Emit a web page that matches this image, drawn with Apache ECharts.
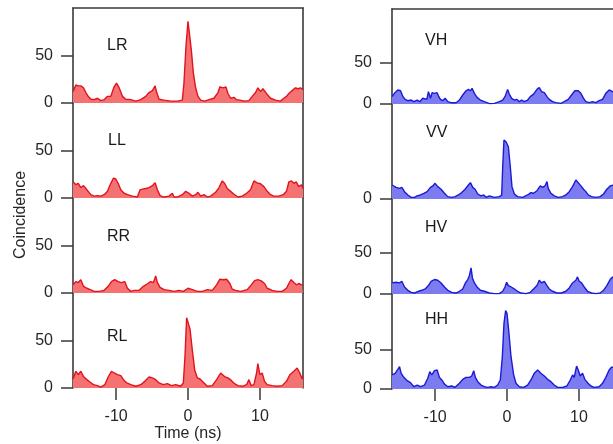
<!DOCTYPE html>
<html>
<head>
<meta charset="utf-8">
<script src="https://cdn.jsdelivr.net/npm/echarts@6/dist/echarts.min.js"></script>
<style>html,body{margin:0;padding:0;background:#fff}#c{width:613px;height:444px}</style>
</head>
<body>
<div id="c"></div>
<script>
// ---- data ----
const xTickValues = [-10, 0, 10];
const yTickValues = [0, 50];
const vvTickValues = [0];
const xRange = [-16, 16];
const panelNames = ['LR', 'LL', 'RR', 'RL', 'VH', 'VV', 'HV', 'HH'];
const panelMax = [100, 100, 100, 100, 115, 40, 115, 120];

const lr = [[-16,12],[-15.6,19],[-15.28,18],[-14.91,18],[-14.54,16],[-14.21,11],[-13.89,7],[-13.52,4],[-13.06,3.5],[-12.59,5],[-12.13,2.5],[-11.67,3.5],[-11.2,7],[-10.74,7],[-10.28,17],[-9.95,21],[-9.58,16],[-9.12,7],[-8.66,4],[-7.96,3.5],[-7.27,2],[-6.57,3.5],[-5.88,7],[-5.42,11],[-4.95,13],[-4.58,18],[-4.35,11],[-4.03,4],[-3.33,3],[-2.41,2],[-1.48,2],[-0.79,3],[-0.56,21],[-0.28,60],[0,86],[0.23,84],[0.46,56],[0.74,32],[1.06,16],[1.39,7],[1.76,3],[2.31,2],[2.92,3.5],[3.61,5],[4.17,11],[4.44,17],[4.91,16],[5.28,17],[5.56,10],[5.93,5],[6.39,6],[6.76,3.5],[7.22,3],[7.78,2],[8.47,2.5],[8.94,7],[9.4,11],[9.72,16],[10.09,12],[10.42,15],[10.69,13],[11.02,9],[11.48,5],[12.18,3],[12.87,2],[13.33,5],[13.7,7],[14.03,10],[14.49,13],[14.95,16],[15.32,15],[15.65,16],[16,14]];
const ll = [[-16,17],[-15.6,14],[-15.28,15.5],[-14.91,11],[-14.54,13],[-14.21,10],[-13.89,7],[-13.52,3.5],[-13.06,2],[-12.59,2.5],[-12.13,2],[-11.67,3.5],[-11.2,7],[-10.83,14],[-10.37,21],[-10.05,20],[-9.72,15.5],[-9.35,8.6],[-8.89,5],[-8.43,3.5],[-7.73,2],[-7.04,1],[-6.67,8.6],[-6.34,9.3],[-5.88,10],[-5.42,11],[-4.95,13],[-4.58,16],[-4.26,8.6],[-3.89,2.5],[-3.33,1],[-2.64,2],[-2.18,5],[-1.94,1],[-1.48,1],[-0.79,3.5],[-0.32,7],[0.14,5],[0.6,2],[1.06,3.5],[1.39,6],[1.76,2],[2.22,3.5],[2.69,1],[3.15,2],[3.84,6],[4.31,11],[4.77,18],[5.09,15.5],[5.46,10],[5.93,7],[6.39,4],[6.94,1],[7.55,2],[8.15,5],[8.7,8.6],[9.17,18],[9.63,16],[10.09,15],[10.56,12],[11.02,7],[11.48,3.5],[11.94,2],[12.64,2],[13.24,3.5],[13.7,7],[14.03,17],[14.4,18],[14.72,15.5],[15.05,17],[15.42,12],[15.79,14],[16,10]];
const rr = [[-16,8.6],[-15.6,12],[-15.28,11],[-14.91,14],[-14.54,7],[-14.07,5],[-13.61,3.5],[-13.06,1.7],[-12.36,1.7],[-11.67,2.8],[-11.11,7],[-10.65,12],[-10.19,14],[-9.72,12],[-9.26,11],[-8.8,12],[-8.43,5],[-7.96,1.7],[-7.5,2.8],[-7.27,4],[-6.81,2.8],[-6.2,7],[-5.65,9.7],[-5.19,12],[-4.81,11],[-4.49,18],[-4.26,11],[-3.89,6],[-3.33,3.5],[-2.64,2.8],[-1.94,1.7],[-1.25,2.8],[-0.65,1.7],[0,5],[0.6,3.5],[1.3,1.7],[1.99,1.7],[2.69,3.5],[3.38,2.8],[3.98,8.6],[4.44,14.5],[4.91,14],[5.37,14.5],[5.83,10],[6.16,4],[6.62,2.8],[7.31,1.7],[8.24,3.5],[8.8,8.6],[9.26,13],[9.72,14],[10.19,12.8],[10.65,10],[11.02,5],[11.71,2.8],[12.41,1.7],[13.1,1.7],[13.7,5],[14.03,10],[14.35,14],[14.72,11],[15.09,8.6],[15.42,10],[15.79,8.6],[16,7.6]];
const rl = [[-16,9.5],[-15.6,17.6],[-15.28,14],[-14.91,17.6],[-14.54,12],[-14.07,8.8],[-13.61,6],[-13.15,3.5],[-12.59,2.5],[-12.13,1],[-11.57,3.5],[-11.11,11.6],[-10.65,17.6],[-10.28,15.8],[-9.81,14],[-9.35,13],[-8.98,8.8],[-8.52,5.3],[-7.96,3.5],[-7.27,1.8],[-6.57,3.5],[-6.02,7],[-5.42,11.6],[-4.95,10.6],[-4.49,8.8],[-4.03,5.3],[-3.43,3.5],[-2.87,4.6],[-2.31,2.5],[-1.71,3.5],[-1.02,1.8],[-0.65,5.3],[-0.42,33],[-0.19,74],[0,76],[0.28,62],[0.6,40],[0.93,19],[1.3,10.6],[1.67,9.5],[2.13,6],[2.69,1.8],[3.38,2.5],[3.98,8.8],[4.54,15.8],[5.09,12],[5.56,10.6],[6.02,8],[6.48,4.6],[6.94,2.5],[7.55,1.8],[8.15,3.5],[8.47,8.8],[8.8,2.5],[9.17,3.5],[9.54,15.8],[9.72,25.7],[10,14],[10.32,15.8],[10.65,7],[11.02,3.5],[11.71,2.5],[12.41,1.8],[13.1,2.5],[13.7,7],[14.17,14],[14.72,17.6],[15.19,21],[15.56,15.8],[15.88,9.5],[16,12]];
const vh = [[-16,9],[-15.83,9],[-15.56,14],[-15.19,17],[-14.81,16],[-14.49,9],[-14.17,5.6],[-13.8,4],[-13.33,4.8],[-12.96,2.8],[-12.5,4.8],[-12.13,2.8],[-11.71,6.9],[-11.48,4.8],[-11.16,5.6],[-10.93,15],[-10.65,6.9],[-10.42,13.7],[-10.09,12.9],[-9.72,13.7],[-9.49,8.9],[-9.26,5.6],[-8.94,4],[-8.61,6.9],[-8.24,2.8],[-7.78,1.6],[-7.08,1.6],[-6.62,4.8],[-6.16,10.9],[-5.69,16],[-5.37,17.7],[-5.09,16],[-4.86,19],[-4.54,12.9],[-4.17,8],[-3.7,4.8],[-3.15,2.8],[-2.45,0.5],[-1.76,0.8],[-1.06,2.8],[-0.6,4.8],[-0.28,8.9],[0.09,17.7],[0.32,12],[0.65,6.9],[1.02,4.8],[1.39,5.6],[1.71,2.8],[2.04,4.8],[2.41,2.8],[2.87,4.8],[3.24,8.9],[3.7,12],[4.17,17.7],[4.49,20],[4.81,15],[5.19,13.7],[5.56,8.9],[5.88,5.6],[6.34,2.8],[6.81,1.6],[7.5,0.8],[7.96,2.8],[8.52,5.6],[8.98,10.9],[9.44,16],[9.91,16],[10.28,12.9],[10.65,6.9],[10.97,2.8],[11.44,1.6],[11.9,2.8],[12.36,1.6],[12.82,4],[13.29,5.6],[13.75,12.9],[14.21,17],[14.68,15],[14.86,16],[15.3,12],[15.7,6],[16,4]];
const vv = [[-16,5.9],[-15.83,5.9],[-15.42,4.9],[-14.95,4.5],[-14.63,4.9],[-14.26,3.1],[-13.8,1.7],[-13.33,0.7],[-12.87,0.7],[-12.5,1.3],[-12.04,1.7],[-11.57,2.4],[-11.11,3.1],[-10.65,4.9],[-10.32,5.5],[-10,6.6],[-9.63,5.2],[-9.17,4.1],[-8.7,2.4],[-8.24,1],[-7.69,0.7],[-7.22,1],[-6.76,1.7],[-6.3,2.7],[-5.83,4.1],[-5.37,5.9],[-5.09,6.9],[-4.77,4.9],[-4.44,4.1],[-4.07,2.1],[-3.61,1.3],[-3.24,1.7],[-2.92,0.7],[-2.45,1.3],[-1.76,0.7],[-1.06,1],[-0.74,1.7],[-0.6,13.6],[-0.42,24.8],[-0.14,24.1],[0.19,22],[0.46,13.6],[0.69,5.2],[1.02,2.1],[1.48,1],[2.18,0.7],[2.87,1.7],[3.33,2.7],[3.7,2.4],[4.17,3.5],[4.63,5.5],[4.95,4.9],[5.28,5.5],[5.56,7.3],[5.74,4.5],[6.11,2.4],[6.57,1.3],[7.13,0.7],[7.73,1],[8.19,1.7],[8.66,3.1],[9.12,5.2],[9.58,8],[9.91,6.9],[10.28,5.5],[10.65,4.1],[10.97,3.1],[11.3,1.7],[11.76,1],[12.36,0.7],[12.96,1],[13.43,2.1],[13.89,4.1],[14.35,5.5],[14.86,5.9],[15.3,4.5],[16,3]];
const hv = [[-16,13.4],[-15.83,13.4],[-15.42,14.2],[-14.95,13.4],[-14.63,15.4],[-14.26,8.5],[-13.8,4.5],[-13.33,2],[-12.87,1.2],[-12.31,3.3],[-11.85,4.5],[-11.39,6.1],[-10.93,10.2],[-10.56,15.4],[-10.09,17.5],[-9.63,16.7],[-9.17,13.4],[-8.7,8.5],[-8.24,4.5],[-7.69,2],[-7.08,1.2],[-6.62,3.3],[-6.16,6.1],[-5.79,13.4],[-5.46,17.5],[-5.23,22.4],[-5,31.7],[-4.81,19.5],[-4.54,13.4],[-4.17,8.5],[-3.7,4.5],[-3.15,3.3],[-2.45,1.2],[-1.76,0.4],[-1.06,0.4],[-0.6,3.3],[-0.28,8.5],[-0.05,14.2],[0.19,10.2],[0.56,8.5],[1.02,6.1],[1.48,3.3],[1.94,1.2],[2.64,0.4],[3.24,2],[3.7,6.1],[4.17,10.2],[4.49,16.7],[4.81,13.4],[5.19,15.4],[5.56,10.2],[5.88,6.1],[6.34,3.3],[6.94,1.2],[7.59,1.2],[8.19,3.3],[8.66,7.3],[9.12,13.4],[9.58,16.7],[9.81,20.7],[10.05,15.4],[10.37,13.4],[10.74,8.5],[11.2,3.3],[11.76,1.2],[12.36,0.4],[12.96,1.2],[13.43,4.5],[13.89,10.2],[14.35,17.5],[14.68,20.7],[14.86,19.5],[15.3,15],[16,10]];
const hh = [[-16,17.7],[-15.83,17.7],[-15.56,19.8],[-15.19,24.8],[-14.95,28.2],[-14.72,19.8],[-14.35,14.7],[-13.89,10.5],[-13.43,8],[-12.96,2.9],[-12.5,5],[-12.04,2.9],[-11.48,5],[-11.02,13.5],[-10.74,21.9],[-10.46,17.7],[-10.09,23.2],[-9.72,24],[-9.4,14.7],[-9.07,11.4],[-8.7,6.3],[-8.24,2.9],[-7.69,3.8],[-7.22,2.1],[-6.62,7.2],[-6.16,12.2],[-5.69,14.7],[-5.23,14.7],[-4.91,16.4],[-4.63,23.2],[-4.4,14.7],[-4.07,9.3],[-3.61,5],[-3.15,2.9],[-2.69,2.1],[-2.22,2.9],[-1.76,2.1],[-1.3,5],[-0.93,11.4],[-0.65,40.8],[-0.42,83],[-0.19,99],[0,95.6],[0.23,74.5],[0.56,40.8],[0.93,17.7],[1.25,7.2],[1.71,2.9],[2.31,2.1],[2.87,5],[3.33,11.4],[3.8,19.8],[4.26,24],[4.72,19.8],[5.19,16.4],[5.65,12.2],[6.11,9.3],[6.57,5],[7.04,2.1],[7.73,2.1],[8.33,3.8],[8.8,11.4],[9.12,17.7],[9.35,14.7],[9.68,29],[9.91,24],[10.19,16.4],[10.51,19.8],[10.83,12.2],[11.2,8],[11.67,3.8],[12.13,2.1],[12.82,2.9],[13.29,7.2],[13.75,14.7],[14.21,24],[14.54,27.4],[14.86,27.4],[15.3,22],[16,15]];

const seriesData = [lr, ll, rr, rl, vh, vv, hv, hh];

// ---- layout / style ----
const FONT = '"Liberation Sans", Arial, Helvetica, sans-serif';
const TXT = '#262626';
const AX = '#3a3a3a';
const colLeft = [73, 392];
const colTop = [8, 9];
const plotW = 230, plotH = 95;
const labelPos = [[107,38],[108,133],[107,229],[107,329],[425,33],[426,125],[425,220],[425,312]];
const lineCol = ['#e3121c', '#1a1ad6'];
const fillCol = ['#f47272', '#7c7cf0'];

const grids = [], xAxes = [], yAxes = [], series = [], titles = [];
for (let i = 0; i < 8; i++) {
  const col = i < 4 ? 0 : 1, row = i % 4;
  const bottom = row === 3;
  grids.push({left: colLeft[col], top: colTop[col] + row * plotH, width: plotW, height: plotH,
    containLabel: false, outerBoundsMode: 'none'});
  xAxes.push({type: 'value', gridIndex: i, min: xRange[0], max: xRange[1], position: 'bottom',
    axisLine: {show: false, onZero: false}, splitLine: {show: false},
    axisTick: {show: bottom, customValues: xTickValues, length: 12, inside: false, lineStyle: {color: AX, width: 1.5}},
    axisLabel: {show: bottom, customValues: xTickValues, margin: 21, color: TXT, fontSize: 16, fontFamily: FONT},
    name: (i === 3) ? 'Time (ns)' : '', nameLocation: 'middle', nameGap: 35,
    nameTextStyle: {color: TXT, fontSize: 16, fontFamily: FONT}});
  const ticks = (i === 5) ? vvTickValues : yTickValues;
  yAxes.push({type: 'value', gridIndex: i, min: 0, max: panelMax[i], position: 'left',
    axisLine: {show: true, onZero: false, lineStyle: {color: AX, width: 1.6}}, splitLine: {show: false},
    axisTick: {show: true, customValues: ticks, length: 12, inside: false, lineStyle: {color: AX, width: 1.5}},
    axisLabel: {show: true, customValues: ticks, margin: 20, color: TXT, fontSize: 16, fontFamily: FONT}});
  series.push({type: 'line', xAxisIndex: i, yAxisIndex: i, data: seriesData[i], showSymbol: false,
    symbol: 'none', smooth: false, animation: false, z: 2,
    lineStyle: {color: lineCol[col], width: 1.4}, areaStyle: {color: fillCol[col], opacity: 1, origin: 'start'}});
  titles.push({text: panelNames[i], left: labelPos[i][0], top: labelPos[i][1], padding: 0,
    textStyle: {color: '#1a1a1a', fontSize: 16, fontWeight: 'normal', fontFamily: FONT}});
}
// frame lines: right edge of left column, top edges of both columns
for (let i = 0; i < 4; i++) {
  yAxes.push({type: 'value', gridIndex: i, min: 0, max: 1, position: 'right',
    axisLine: {show: true, onZero: false, lineStyle: {color: AX, width: 1.6}},
    axisTick: {show: false}, axisLabel: {show: false}, splitLine: {show: false}});
}
[0, 4].forEach(function (g) {
  xAxes.push({type: 'value', gridIndex: g, min: xRange[0], max: xRange[1], position: 'top',
    axisLine: {show: true, onZero: false, lineStyle: {color: AX, width: 1.6}},
    axisTick: {show: false}, axisLabel: {show: false}, splitLine: {show: false}});
});

const chart = echarts.init(document.getElementById('c'), null, {renderer: 'canvas'});
chart.setOption({
  animation: false,
  backgroundColor: '#fff',
  title: titles,
  grid: grids,
  xAxis: xAxes,
  yAxis: yAxes,
  series: series,
  graphic: [{type: 'text', x: 21, y: 215, rotation: Math.PI / 2,
    style: {text: 'Coincidence', fill: TXT, font: '16px ' + FONT, align: 'center', verticalAlign: 'middle'}}]
});
</script>
</body>
</html>
